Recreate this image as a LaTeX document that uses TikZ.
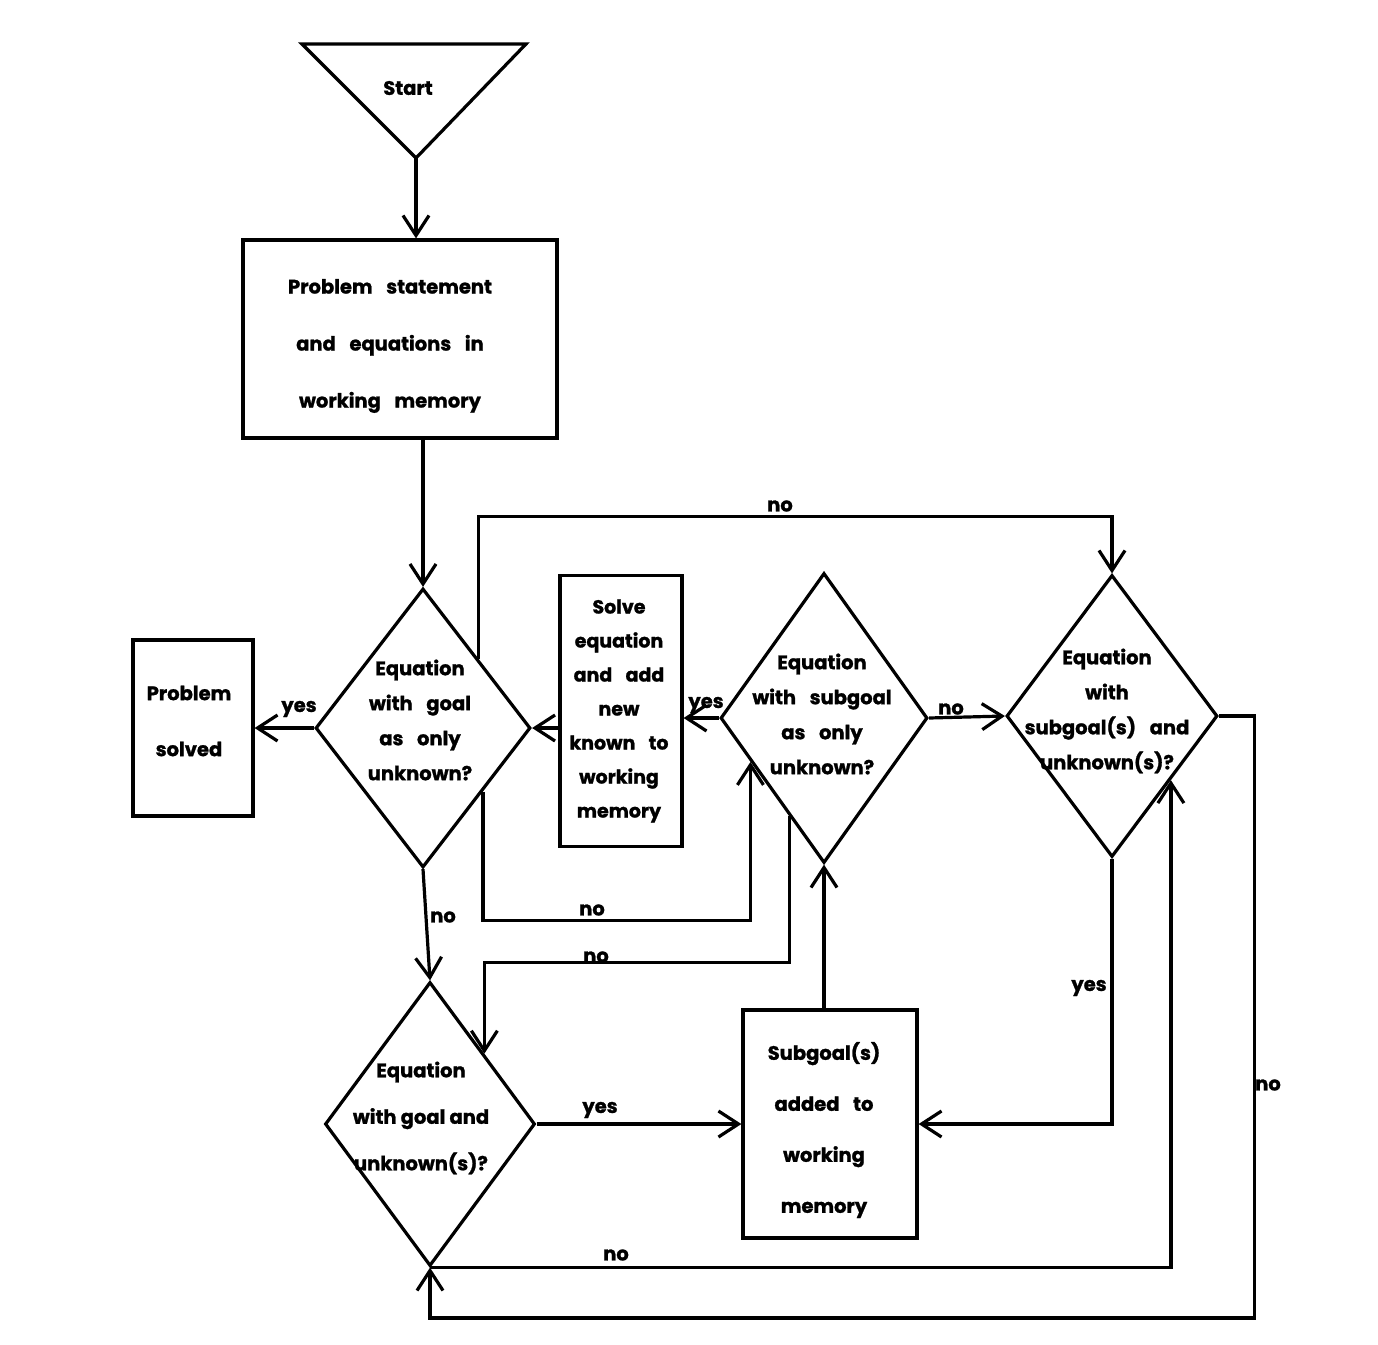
\documentclass[tikz,border=0pt]{standalone}
\usepackage{fontspec}
\setmainfont{Poppins}[BoldFeatures={FakeBold=1.2}]
\usetikzlibrary{arrows.meta,shapes.geometric,calc}
\newcommand{\gap}{\hspace{0.7em}}
\begin{document}
\begin{tikzpicture}[x=1pt,y=-1pt,
  line width=3.2pt,
  every node/.style={font=\bfseries\fontsize{19.5}{35}\selectfont, align=center},
  box/.style={draw, rectangle, inner sep=0pt},
  dia/.style={draw, diamond, inner sep=0pt},
  txt/.style={inner sep=0pt},
  lbl/.style={inner sep=0pt, font=\bfseries\fontsize{19.5}{22}\selectfont},
  arr/.style={-{Straight Barb[length=20pt,width=26pt]}},
  ]
\useasboundingbox (0,0) rectangle (1378,1344);
% start triangle
\draw (302,44) -- (526,44) -- (416,158) -- cycle;
\coordinate (sapex) at (416,158);
\node[txt] (start) at (408,88) {Start};
% boxes
\node[box, minimum width=314pt, minimum height=198pt] (ps) at (400,339) {};
\node[txt, font=\bfseries\fontsize{19.5}{57}\selectfont] (pst) at (390,346) {Problem\gap statement\\and\gap equations\gap in\\working\gap memory};
\node[box, minimum width=120pt, minimum height=176pt] (solved) at (193,728) {};
\node[txt, font=\bfseries\fontsize{19.5}{56}\selectfont] (solvedt) at (189,721) {Problem\\solved};
\node[box, minimum width=122pt, minimum height=271pt] (solve) at (621,711) {};
\node[txt, font=\bfseries\fontsize{19}{34}\selectfont] (solvet) at (619,711) {Solve\\equation\\and\gap add\\new\\known\gap to\\working\\memory};
\node[box, minimum width=174pt, minimum height=228pt] (sub) at (830,1124) {};
\node[txt, font=\bfseries\fontsize{19.5}{51}\selectfont] (subt) at (824,1130) {Subgoal(s)\\added\gap to\\working\\memory};
% diamonds
\node[dia, minimum width=215pt, minimum height=279pt] (d1) at (423,728) {};
\node[txt] (d1t) at (420,720) {Equation\\with\gap goal\\as\gap only\\unknown?};
\node[dia, minimum width=207pt, minimum height=290pt] (d2) at (824,718) {};
\node[txt] (d2t) at (822,714) {Equation\\with\gap subgoal\\as\gap only\\unknown?};
\node[dia, minimum width=211pt, minimum height=282pt] (d3) at (1112,716) {};
\node[txt] (d3t) at (1107,711) {Equation\\with\\subgoal(s)\gap and\\unknown(s)?};
\node[dia, minimum width=210pt, minimum height=284pt] (d4) at (430,1124) {};
\node[txt, font=\bfseries\fontsize{19.5}{46.5}\selectfont] (d4t) at (421,1118) {Equation\\with goal and\\unknown(s)?};
% helper points on diamond edges
\coordinate (p1) at ($(d1.north)!0.51!(d1.east)$);
\coordinate (p2) at ($(d1.east)!0.45!(d1.south)$);
\coordinate (p3) at ($(d2.west)!0.3!(d2.south)$);
\coordinate (p4) at ($(d2.west)!0.67!(d2.south)$);
\coordinate (p5) at ($(d4.north)!0.51!(d4.east)$);
\coordinate (p6) at ($(d3.east)!0.45!(d3.south)$);
% connectors
\draw[arr] (sapex) -- (sapex |- ps.north);
\draw[arr] (d1.north |- ps.south) -- (d1.north);
\draw[arr] (d1.west) -- (d1.west -| solved.east);
\draw[arr] (d1.east -| solve.west) -- (d1.east);
\draw[arr] (d2.west) -- (d2.west -| solve.east);
\draw[arr] (d2.east) -- (d3.west);
\draw[arr] (p1) |- ([yshift=57pt]d3.north) -- (d3.north);
\draw[arr] (p2) -- ++(0,129) -| (p3);
\draw[arr] (d1.south) -- (d4.north);
\draw[arr] (p4) -- ++(0,146) -| (p5);
\draw[arr] (d4.east) -- (d4.east -| sub.west);
\draw[arr] (d2.south |- sub.north) -- (d2.south);
\draw[arr] (d3.south) |- (sub.east);
\draw[arr] (d3.east) -- ++(35,0) -- ++(0,602) -| (d4.south);
\draw[arr] (d4.south) -| (p6);
% labels
\node[lbl] (l1) at (299,709) {yes};
\node[lbl] (l2) at (780,506) {no};
\node[lbl] (l3) at (592,910) {no};
\node[lbl] (l4) at (443,917) {no};
\node[lbl] (l5) at (706,705) {yes};
\node[lbl] (l6) at (951,709) {no};
\node[lbl] (l7) at (596,957) {no};
\node[lbl] (l8) at (600,1110) {yes};
\node[lbl] (l9) at (1089,988) {yes};
\node[lbl] (l10) at (1268,1085) {no};
\node[lbl] (l11) at (616,1255) {no};
\end{tikzpicture}
\end{document}
